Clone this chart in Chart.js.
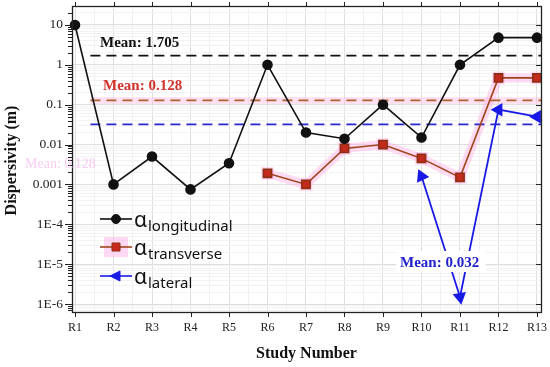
<!DOCTYPE html>
<html lang="en">
<head>
  <meta charset="UTF-8">
  <title>Dispersivity</title>
  <script src="https://cdn.jsdelivr.net/npm/chart.js"></script>
  <style>
    body { margin: 0; background: #fff; }
    canvas { display: block; }
  </style>
</head>
<body>
  <canvas id="chart" width="550" height="367"></canvas>

  <script>
    // study labels and values
    const studies = ['R1', 'R2', 'R3', 'R4', 'R5', 'R6', 'R7', 'R8', 'R9', 'R10', 'R11', 'R12', 'R13'];
    const longitudinal = [10, 0.001, 0.005, 0.00075, 0.0034, 1, 0.02, 0.014, 0.1, 0.015, 1, 4.8, 4.8];
    const transverse = [null, null, null, null, null, 0.0019, 0.001, 0.008, 0.01, 0.0045, 0.0015, 0.47, 0.47];
    const lateral = [null, null, null, null, null, null, null, null, null, 0.0016, 1.5e-6, 0.075, 0.05];
    const means = { longitudinal: 1.705, transverse: 0.128, lateral: 0.032 };
    const yTickValues = [1e-6, 1e-5, 1e-4, 0.001, 0.01, 0.1, 1, 10];
    const yTickLabels = ['1E-6', '1E-5', '1E-4', '0.001', '0.01', '0.1', '1', '10'];

    const meanStart = 1.4, meanEnd = 13.2;
    const xMin = 0.922, xMax = 13.104;
    const yMin = Math.pow(10, -6.2), yMax = Math.pow(10, 1.4);
    const yFrameTop = Math.pow(10, 1.475);

    const pts = arr => arr.map((v, i) => ({ x: i + 1, y: v }));
    const hline = v => [{ x: meanStart, y: v }, { x: meanEnd, y: v }];

    const serif = '"Liberation Serif", "Times New Roman", serif';
    const lateralRot = [0, 0, 0, 0, 0, 0, 0, 0, 0, -25, 170, -90, -90];

    const frame = {
      id: 'frame',
      afterDatasetsDraw(chart) {
        const c = chart.ctx, a = chart.chartArea;
        const xs = chart.scales.x, ys = chart.scales.y;
        const top = Math.round(ys.getPixelForValue(yFrameTop));
        c.save();
        // white box behind the blue mean label
        c.fillStyle = '#fff';
        c.fillRect(396, 251, 90, 21);

        c.strokeStyle = '#222';
        c.lineWidth = 1;
        c.beginPath();
        // ticks on the bottom / top
        studies.forEach((s, i) => {
          const px = Math.round(xs.getPixelForValue(i + 1)) + 0.5;
          c.moveTo(px, a.bottom); c.lineTo(px, a.bottom + 5);
          c.moveTo(px, top); c.lineTo(px, top - 4);
        });
        // ticks on the left / right
        yTickValues.forEach((v, i) => {
          const py = Math.round(ys.getPixelForValue(v)) + 0.5;
          c.moveTo(a.left, py); c.lineTo(a.left - 7, py);
          c.moveTo(a.right, py); c.lineTo(a.right - 5, py);
          for (let k = 2; k <= 9; k++) {
            const mv = v * k;
            if (mv > yFrameTop) break;
            const my = Math.round(ys.getPixelForValue(mv)) + 0.5;
            c.moveTo(a.left, my); c.lineTo(a.left - 4, my);
          }
        });
        [7e-7, 8e-7, 9e-7].forEach(v => {
          const my = Math.round(ys.getPixelForValue(v)) + 0.5;
          c.moveTo(a.left, my); c.lineTo(a.left - 4, my);
        });
        c.stroke();

        c.lineWidth = 1.3;
        c.strokeRect(a.left + 0.5, top + 0.5, a.right - a.left, a.bottom - top);

        // mean labels
        c.font = 'bold 15px ' + serif;
        c.textBaseline = 'alphabetic';
        c.fillStyle = '#111';
        c.fillText('Mean: 1.705', 100, 47);
        c.fillStyle = '#d2322c';
        c.fillText('Mean: 0.128', 103, 90);
        c.fillStyle = '#2222cc';
        c.fillText('Mean: 0.032', 400, 267);
        c.fillStyle = 'rgba(244,170,236,0.6)';
        c.font = '14px ' + serif;
        c.fillText('Mean: 0.128', 25, 168);

        // legend
        const rows = [
          { y: 219, name: 'longitudinal', line: '#111', fill: '#111', edge: '#111', shape: 'circle' },
          { y: 247, name: 'transverse', line: '#a0461e', fill: '#c8281e', edge: '#8b2f12', shape: 'rect' },
          { y: 276, name: 'lateral', line: '#1a1ae6', fill: '#1a1ae6', edge: '#1a1ae6', shape: 'tri' }
        ];
        rows.forEach(r => {
          if (r.shape === 'rect') {
            c.fillStyle = 'rgba(255,180,232,0.5)';
            c.fillRect(104, r.y - 10, 24, 20);
          }
          c.strokeStyle = r.line;
          c.lineWidth = 1.6;
          c.beginPath(); c.moveTo(100, r.y); c.lineTo(132, r.y); c.stroke();
          c.fillStyle = r.fill;
          c.strokeStyle = r.edge;
          c.lineWidth = 1;
          c.beginPath();
          if (r.shape === 'circle') c.arc(116, r.y, 4.5, 0, Math.PI * 2);
          else if (r.shape === 'rect') c.rect(112, r.y - 4, 8, 8);
          else { c.moveTo(110, r.y); c.lineTo(120, r.y - 5); c.lineTo(120, r.y + 5); c.closePath(); }
          c.fill(); c.stroke();
          c.fillStyle = '#111';
          c.font = '21px "Noto Sans", sans-serif';
          c.fillText('α', 134, r.y + 8);
          c.font = '15px "Noto Sans", sans-serif';
          c.fillText(r.name, 148, r.y + 12);
        });
        c.restore();
      }
    };

    new Chart(document.getElementById('chart'), {
      type: 'line',
      data: {
        datasets: [
          {
            label: 'longitudinal', data: pts(longitudinal), borderColor: '#111', backgroundColor: '#111',
            borderWidth: 1.6, pointRadius: 4.5, pointStyle: 'circle', order: 1, clip: 12
          },
          {
            label: 'transverse', data: pts(transverse), borderColor: '#a0461e', backgroundColor: '#c22a1c',
            pointBorderColor: '#8b2f12', borderWidth: 1.6, pointRadius: 5.8, pointStyle: 'rect', order: 2
          },
          {
            label: 'lateral', data: pts(lateral), borderColor: '#1a1ae6', backgroundColor: '#1a1ae6',
            borderWidth: 1.8, pointRadius: 6, pointStyle: 'triangle', order: 3,
            pointRotation: ctx => lateralRot[ctx.dataIndex] || 0
          },
          {
            label: 'glow', data: pts(transverse), borderColor: 'rgba(255,175,230,0.45)',
            backgroundColor: 'rgba(255,175,230,0.45)', borderWidth: 9, pointRadius: 9,
            pointStyle: 'rect', pointBorderWidth: 0, order: 9
          },
          {
            label: 'mean glow', data: hline(means.transverse), borderColor: 'rgba(255,190,225,0.45)',
            borderWidth: 7, pointRadius: 0, order: 10
          },
          {
            label: 'mean L', data: hline(means.longitudinal), borderColor: '#111',
            borderWidth: 1.6, borderDash: [10, 6], pointRadius: 0, order: 5
          },
          {
            label: 'mean T', data: hline(means.transverse), borderColor: '#b0602a',
            borderWidth: 1.6, borderDash: [10, 6], pointRadius: 0, order: 5
          },
          {
            label: 'mean La', data: hline(means.lateral), borderColor: '#2a2ad0',
            borderWidth: 1.6, borderDash: [10, 6], pointRadius: 0, order: 5
          }
        ]
      },
      options: {
        responsive: false,
        animation: false,
        devicePixelRatio: 1,
        spanGaps: false,
        layout: { padding: { top: 2, right: 9, left: 0, bottom: 0 } },
        plugins: { legend: { display: false }, tooltip: { enabled: false } },
        scales: {
          x: {
            type: 'linear', min: xMin, max: xMax,
            afterBuildTicks: scale => {
              const t = [];
              studies.forEach((s, i) => {
                t.push({ value: i + 1, major: true });
                if (i < studies.length - 1) t.push({ value: i + 1.5, major: false });
              });
              scale.ticks = t;
            },
            afterFit: scale => {
              scale.height = 55;
              scale.paddingLeft = 0;
              scale.paddingRight = 0;
            },
            grid: {
              drawTicks: false,
              color: ctx => ctx.tick && ctx.tick.major ? '#dedede' : '#f0f0f0'
            },
            border: { display: false },
            ticks: {
              autoSkip: false, maxRotation: 0, padding: 9, color: '#222',
              font: { family: serif, size: 12 },
              callback: (v, i, ticks) => ticks[i].major ? studies[v - 1] : ''
            },
            title: {
              display: true, text: 'Study Number', color: '#111',
              font: { family: serif, size: 16, weight: 'bold' }, padding: { top: 6, bottom: 4 }
            }
          },
          y: {
            type: 'logarithmic', min: yMin, max: yMax,
            afterBuildTicks: scale => {
              const t = [];
              [7e-7, 8e-7, 9e-7].forEach(v => t.push({ value: v, major: false }));
              yTickValues.forEach((v, i) => {
                t.push({ value: v, major: true });
                for (let k = 2; k <= 9; k++) if (v * k < yMax) t.push({ value: v * k, major: false });
              });
              scale.ticks = t;
            },
            afterFit: scale => {
              scale.width = 72;
              scale.paddingTop = 0;
              scale.paddingBottom = 0;
            },
            grid: {
              drawTicks: false,
              color: ctx => ctx.tick && ctx.tick.major ? '#dedede' : '#f2f2f2'
            },
            border: { display: false },
            ticks: {
              autoSkip: false, padding: 9, color: '#222',
              font: { family: serif, size: 13.5 },
              callback: (v, i, ticks) => ticks[i].major ? yTickLabels[yTickValues.indexOf(v)] : ''
            },
            title: {
              display: true, text: 'Dispersivity (m)', color: '#111',
              font: { family: serif, size: 16, weight: 'bold' }, padding: { top: 2, bottom: 0 }
            }
          }
        }
      },
      plugins: [frame]
    });
  </script>
</body>
</html>
